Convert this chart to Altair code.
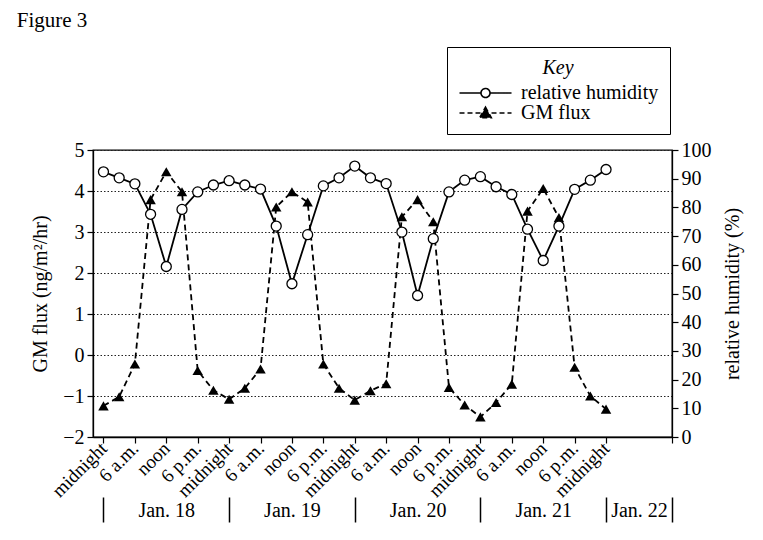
import altair as alt
import pandas as pd

# ---- data ----
hours = list(range(0, 97, 3))  # every 3 h from midnight Jan. 18 to midnight Jan. 22
humidity = [92.4, 90.3, 88.2, 77.6, 59.4, 79.3, 85.4, 87.8, 89.3, 87.8, 86.4,
            73.5, 53.4, 70.5, 87.5, 90.3, 94.4, 90.3, 88.3, 71.4, 49.3, 69.1,
            85.4, 89.5, 90.7, 87.2, 84.5, 72.4, 61.5, 73.5, 86.3, 89.5, 93.2]
gm_flux = [-1.24, -1.02, -0.22, 3.79, 4.47, 3.98, -0.38, -0.86, -1.08, -0.81, -0.34,
           3.61, 3.98, 3.73, -0.22, -0.81, -1.10, -0.87, -0.70, 3.37, 3.79, 3.25,
           -0.79, -1.22, -1.51, -1.16, -0.71, 3.51, 4.06, 3.35, -0.30, -1.00, -1.32]
series_names = ["relative humidity", "GM flux"]
tick_hours = list(range(0, 97, 6))
tick_names = ["midnight", "6 a.m.", "noon", "6 p.m."]
day_bounds = [0, 24, 48, 72, 96, 108.6]
day_centers = [12, 36, 60, 84, 102.3]
day_labels = ["Jan. 18", "Jan. 19", "Jan. 20", "Jan. 21", "Jan. 22"]
flux_ticks = list(range(-2, 6))
hum_ticks = list(range(0, 101, 10))

X_DOMAIN = [-2, 108.6]
SERIF = "Liberation Serif"
FS = 20

df = pd.DataFrame({"hour": hours, "humidity": humidity, "flux": gm_flux})
days = pd.DataFrame({"center": day_centers, "label": day_labels})
bounds = pd.DataFrame({"bound": day_bounds})
legend_df = pd.DataFrame({"series": series_names})

xscale = alt.Scale(domain=X_DOMAIN, nice=False, zero=False)

tick_expr = ("datum.value > 100 ? '' : " +
             " : ".join(f"(datum.value % 24) == {6*i} ? '{n}'" for i, n in enumerate(tick_names[:-1])) +
             f" : '{tick_names[-1]}'")
day_expr = " : ".join(f"datum.value == {c} ? '{l}'" for c, l in zip(day_centers, day_labels)) + " : ''"

x_main = alt.X("hour:Q", scale=xscale, axis=alt.Axis(
    values=tick_hours + [X_DOMAIN[1]], labelExpr=tick_expr, labelAngle=-45,
    labelAlign="right", labelBaseline="middle", labelPadding=2, labelFontSize=19,
    labelOverlap=False, labelBound=False, labelFlush=False,
    tickSize=6, title=None, grid=False, orient="bottom"))
x_hidden = alt.X("hour:Q", scale=xscale, axis=None)

y_flux = alt.Y("flux:Q", scale=alt.Scale(domain=[-2, 5], nice=False, zero=False),
               axis=alt.Axis(values=flux_ticks, title="GM flux (ng/m²/hr)", orient="left",
                             grid=True, gridDash=[1.5, 2], gridColor="#222", gridWidth=1,
                             tickSize=6, labelPadding=3, titlePadding=12,
                             labelOverlap=False, labelFlush=False))
y_hum = alt.Y("humidity:Q", scale=alt.Scale(domain=[0, 100], nice=False, zero=False),
              axis=alt.Axis(values=hum_ticks, title="relative humidity (%)", orient="right",
                            grid=False, tickSize=6, labelPadding=3, titlePadding=31,
                            titleAngle=270, labelOverlap=False, labelFlush=False))

flux_line = alt.Chart(df).mark_line(color="black", strokeDash=[6, 4], strokeWidth=1.8).encode(x=x_main, y=y_flux)
flux_pts = alt.Chart(df).mark_point(shape="triangle-up", filled=True, color="black",
                                    size=110, opacity=1).encode(x=x_main, y=y_flux)
hum_line = alt.Chart(df).mark_line(color="black", strokeWidth=1.8).encode(x=x_hidden, y=y_hum)
hum_pts = alt.Chart(df).mark_point(shape="circle", filled=True, fill="white", stroke="black",
                                   strokeWidth=1.3, size=100, opacity=1).encode(x=x_hidden, y=y_hum)

flux_layer = alt.layer(flux_line, flux_pts)
hum_layer = alt.layer(hum_line, hum_pts)

# legend symbols: line with a marker in the middle (unit = sqrt(symbolSize)/2 px)
HUM_PATH = ("M-1,0H1.53M2.59,0H5.12M1.53,0A0.53,0.53,0,1,0,2.59,0"
            "A0.53,0.53,0,1,0,1.53,0Z")
FLUX_PATH = "M-1,0H5.12M2.06,-0.68L2.74,0.55L1.38,0.55Z"

leg = alt.Legend(title="Key", orient="none", legendX=354, legendY=-103,
                 symbolSize=289, symbolStrokeColor="black", symbolStrokeWidth=1.6,
                 symbolOpacity=1, labelOffset=43, rowPadding=0, titlePadding=5,
                 padding=11, strokeColor="black", fillColor="white", cornerRadius=0,
                 titleAnchor="middle", titleFontStyle="italic", titleFontWeight="normal",
                 titleFont=SERIF, titleFontSize=FS, titleColor="black",
                 labelFont=SERIF, labelFontSize=FS, labelColor="black", labelLimit=0)

legend_layer = alt.Chart(legend_df).mark_point(opacity=1, strokeWidth=1.6).encode(
    shape=alt.Shape("series:N", scale=alt.Scale(domain=series_names, range=[HUM_PATH, FLUX_PATH]), legend=leg),
    fill=alt.Fill("series:N", scale=alt.Scale(domain=series_names, range=["white", "black"]), legend=leg),
    stroke=alt.Stroke("series:N", scale=alt.Scale(domain=series_names, range=["black", "black"]), legend=leg),
    strokeDash=alt.StrokeDash("series:N", scale=alt.Scale(domain=series_names, range=[[1, 0], [5, 3]]), legend=leg),
).transform_filter("false")

day_label_layer = alt.Chart(days).mark_text(opacity=0).encode(
    x=alt.X("center:Q", scale=xscale, axis=alt.Axis(
        values=day_centers, labelExpr=day_expr, ticks=False, domain=False, offset=60,
        labelPadding=3, labelFontSize=FS, labelOverlap=False, labelFlush=False,
        title=None, grid=False, orient="bottom")),
    text="label:N")
day_bar_layer = alt.Chart(bounds).mark_point(opacity=0).encode(
    x=alt.X("bound:Q", scale=xscale, axis=alt.Axis(
        values=day_bounds, labels=False, domain=False, tickSize=25, tickWidth=1.5,
        tickColor="black", offset=60, title=None, grid=False, orient="bottom")))

chart = alt.layer(flux_layer, hum_layer, legend_layer, day_label_layer, day_bar_layer).resolve_scale(
    x="independent", y="independent"
).resolve_axis(
    x="independent", y="independent"
).properties(
    width=579, height=287,
    title=alt.TitleParams("Figure 3", anchor="start", font=SERIF, fontSize=21,
                          fontWeight="normal", color="black", dx=-14, dy=-12),
    autosize=alt.AutoSizeParams(type="none"),
    padding={"left": 85, "top": 142, "right": 82, "bottom": 94},
).configure_view(
    stroke="black", strokeWidth=1.3
).configure_axis(
    labelFont=SERIF, titleFont=SERIF, labelColor="black", titleColor="black",
    domainColor="black", tickColor="black", titleFontWeight="normal",
    titleFontSize=FS, labelFontSize=FS, domainWidth=1.3, tickWidth=1.2
)

chart.save("out.html", embed_options={"renderer": "svg", "actions": False})
